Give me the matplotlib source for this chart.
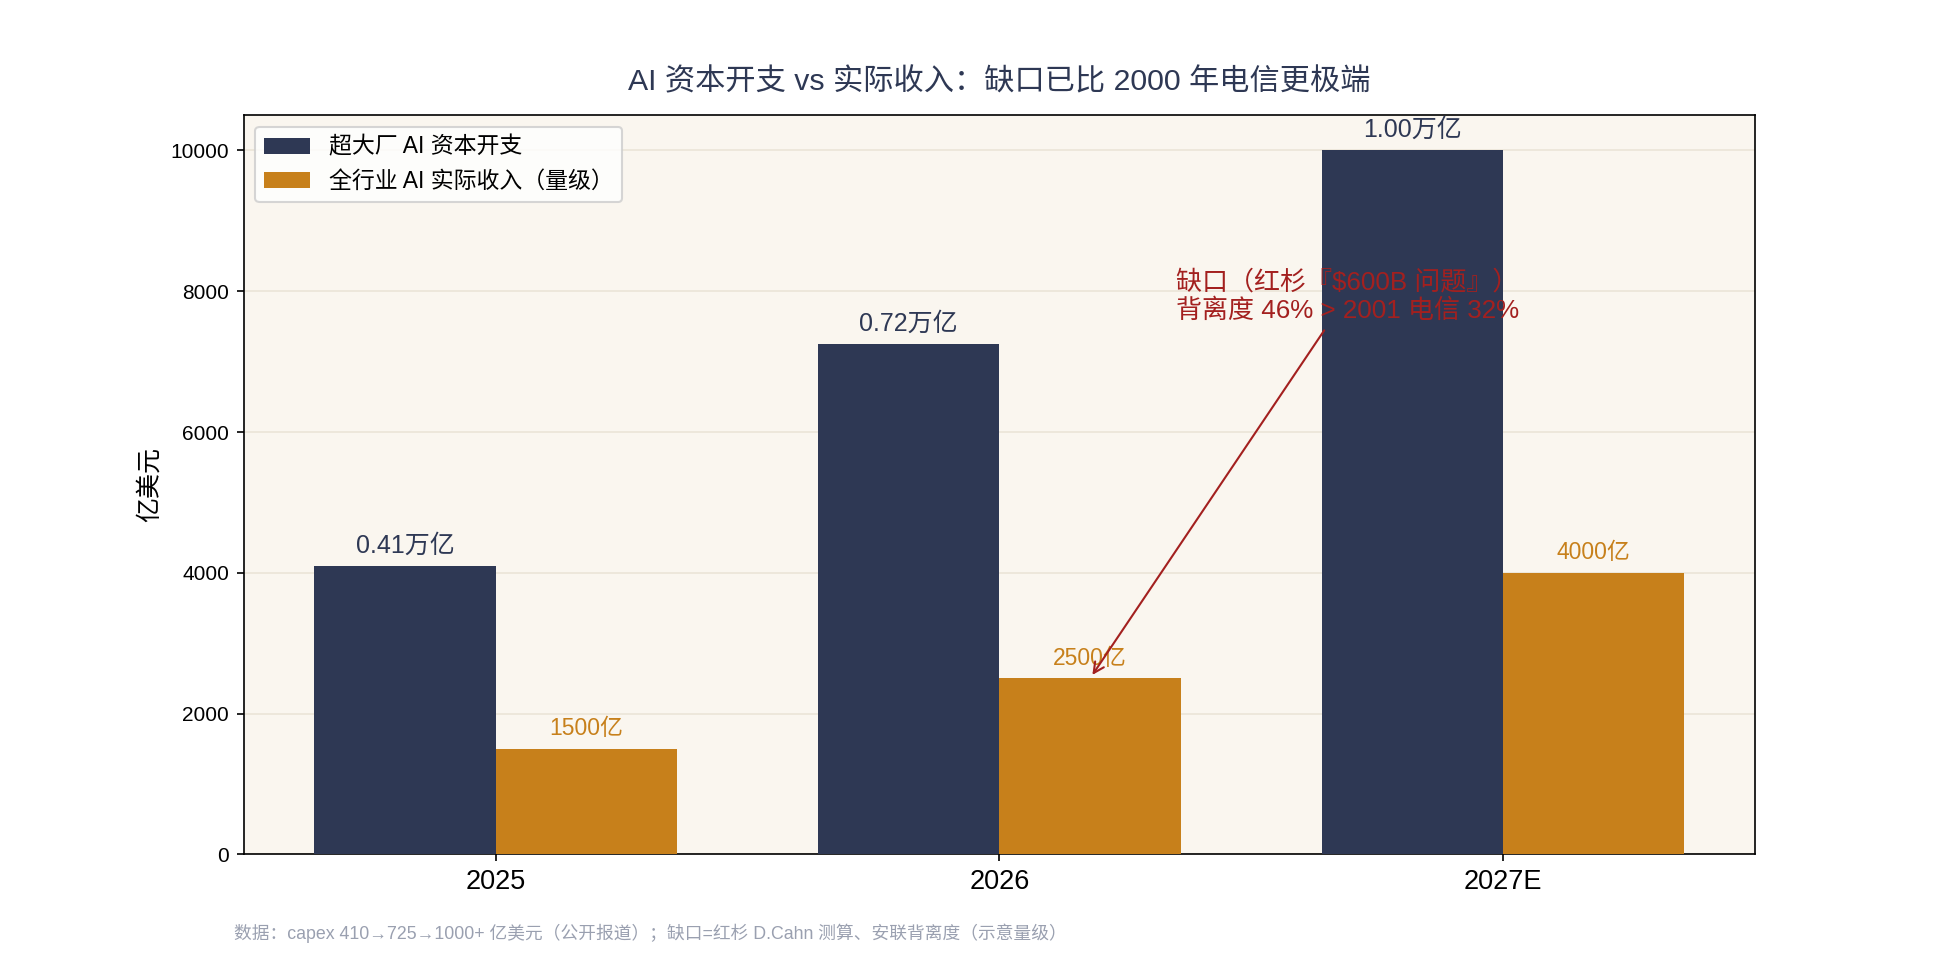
import numpy as np
import matplotlib
matplotlib.use("Agg")
import matplotlib.pyplot as plt

plt.rcParams['font.family'] = ['Liberation Sans', 'Noto Sans CJK SC', 'DejaVu Sans']
plt.rcParams['axes.unicode_minus'] = False

# 数据（亿美元）
years = ["2025", "2026", "2027E"]
capex = [4100, 7250, 10000]
revenue = [1500, 2500, 4000]

navy = "#2e3854"
orange = "#c7801b"
red = "#a3201f"

fig, ax = plt.subplots(figsize=(13, 6.4), dpi=150)
ax.set_facecolor("#faf6ef")

x = np.arange(len(years))
w = 0.36
ax.bar(x - w / 2, capex, w, color=navy, label="超大厂 AI 资本开支", zorder=3)
ax.bar(x + w / 2, revenue, w, color=orange, label="全行业 AI 实际收入（量级）", zorder=3)

for xi, v in zip(x, capex):
    ax.text(xi - w / 2, v + 120, f"{v / 10000:.2f}万亿", ha="center", va="bottom",
            fontsize=12, color=navy)
for xi, v in zip(x, revenue):
    ax.text(xi + w / 2, v + 120, f"{v}亿", ha="center", va="bottom",
            fontsize=11, color=orange)

# 缺口标注
ax.annotate("缺口（红杉『$600B 问题』）\n背离度 46% > 2001 电信 32%",
            xy=(1 + w / 2, revenue[1]), xytext=(1.35, 7930),
            ha="left", va="center", fontsize=12.5, color=red,
            arrowprops=dict(arrowstyle="->", color=red, lw=1.0), zorder=5)

ax.set_xticks(x)
ax.set_xticklabels(years, fontsize=13)
ax.tick_params(axis="y", labelsize=10)
ax.set_xlim(-0.5, 2.5)
ax.set_ylim(0, 10500)
ax.set_ylabel("亿美元", fontsize=12)
ax.grid(axis="y", color="#ebe4d8", lw=0.8, zorder=0)
ax.set_title("AI 资本开支 vs 实际收入：缺口已比 2000 年电信更极端",
             fontsize=14.5, color=navy, pad=12)
ax.legend(loc="upper left", fontsize=11)

fig.text(0.12, 0.018, "数据：capex 410→725→1000+ 亿美元（公开报道）；缺口=红杉 D.Cahn 测算、安联背离度（示意量级）",
         fontsize=8.5, color="#9aa0b0", ha="left", va="bottom")

fig.savefig("out.png")
